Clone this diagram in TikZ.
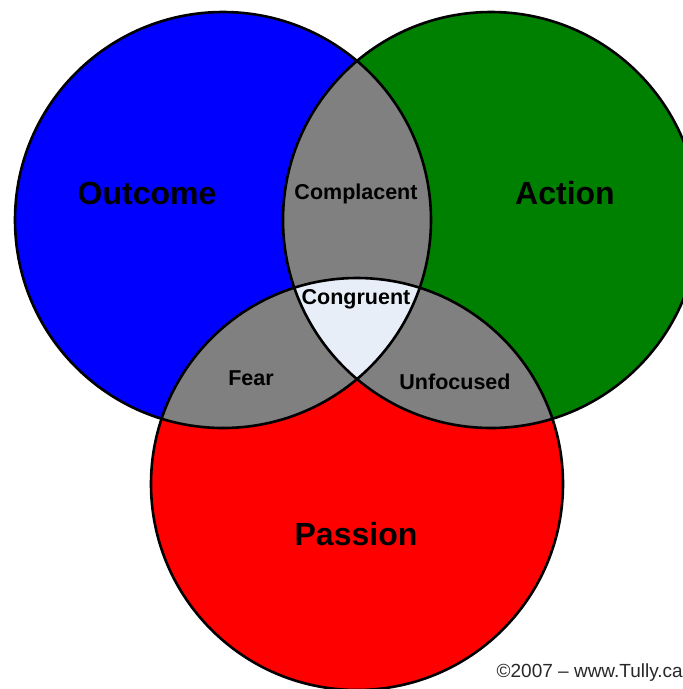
\documentclass[tikz,border=0pt]{standalone}
\usepackage{fontspec}
\setmainfont{Liberation Sans}
\usepackage{xcolor}
\usepackage{tikz}

\definecolor{outcomeblue}{RGB}{0,0,255}
\definecolor{actiongreen}{RGB}{0,128,0}
\definecolor{passionred}{RGB}{255,0,0}
\definecolor{overlapgray}{RGB}{128,128,128}
\definecolor{congruentwhite}{RGB}{232,238,248}
\definecolor{creditgray}{RGB}{40,40,40}

\begin{document}
\begin{tikzpicture}[x=1pt, y=-1pt,
    big/.style={font=\fontsize{32}{32}\selectfont\bfseries, inner sep=0pt},
    small/.style={font=\fontsize{21.5}{21.5}\selectfont\bfseries, inner sep=0pt},
    rim/.style={draw=black, line width=2.6pt}]
     \useasboundingbox (0,0) rectangle (683,689);
     \fill[white] (0,0) rectangle (683,689);

     \coordinate (outcome) at (223, 220);
     \coordinate (action) at (491, 220);
     \coordinate (passion) at (357, 484);

     % the three circles
     \fill[outcomeblue] (outcome) circle[radius=208pt];
     \fill[actiongreen] (action) circle[radius=208pt];
     \fill[passionred] (passion) circle[radius=206pt];

     % pairwise overlaps
     \begin{scope}
         \clip (outcome) circle[radius=208pt];
         \fill[overlapgray] (action) circle[radius=208pt];
         \fill[overlapgray] (passion) circle[radius=206pt];
     \end{scope}
     \begin{scope}
         \clip (action) circle[radius=208pt];
         \fill[overlapgray] (passion) circle[radius=206pt];
     \end{scope}

     % middle
     \begin{scope}
         \clip (outcome) circle[radius=208pt];
         \clip (action) circle[radius=208pt];
         \fill[congruentwhite] (passion) circle[radius=206pt];
     \end{scope}

     \draw[rim] (outcome) circle[radius=208pt];
     \draw[rim] (action) circle[radius=208pt];
     \draw[rim] (passion) circle[radius=206pt];

     \node[big] (outcometext) at (147, 193) {Outcome};
     \node[big] (actiontext) at (565, 193) {Action};
     \node[big] (passiontext) at (356, 534) {Passion};
     \node[small] (complacent) at (356, 194) {Complacent};
     \node[small] (congruent) at (356, 299) {Congruent};
     \node[small] (fear) at (251, 378) {Fear};
     \node[small] (unfocused) at (455, 382) {Unfocused};

     \node[font=\fontsize{19}{19}\selectfont, text=creditgray, inner sep=0pt, anchor=east] (credit) at (683, 673) {©2007 – www.Tully.ca};
 \end{tikzpicture}
\end{document}
